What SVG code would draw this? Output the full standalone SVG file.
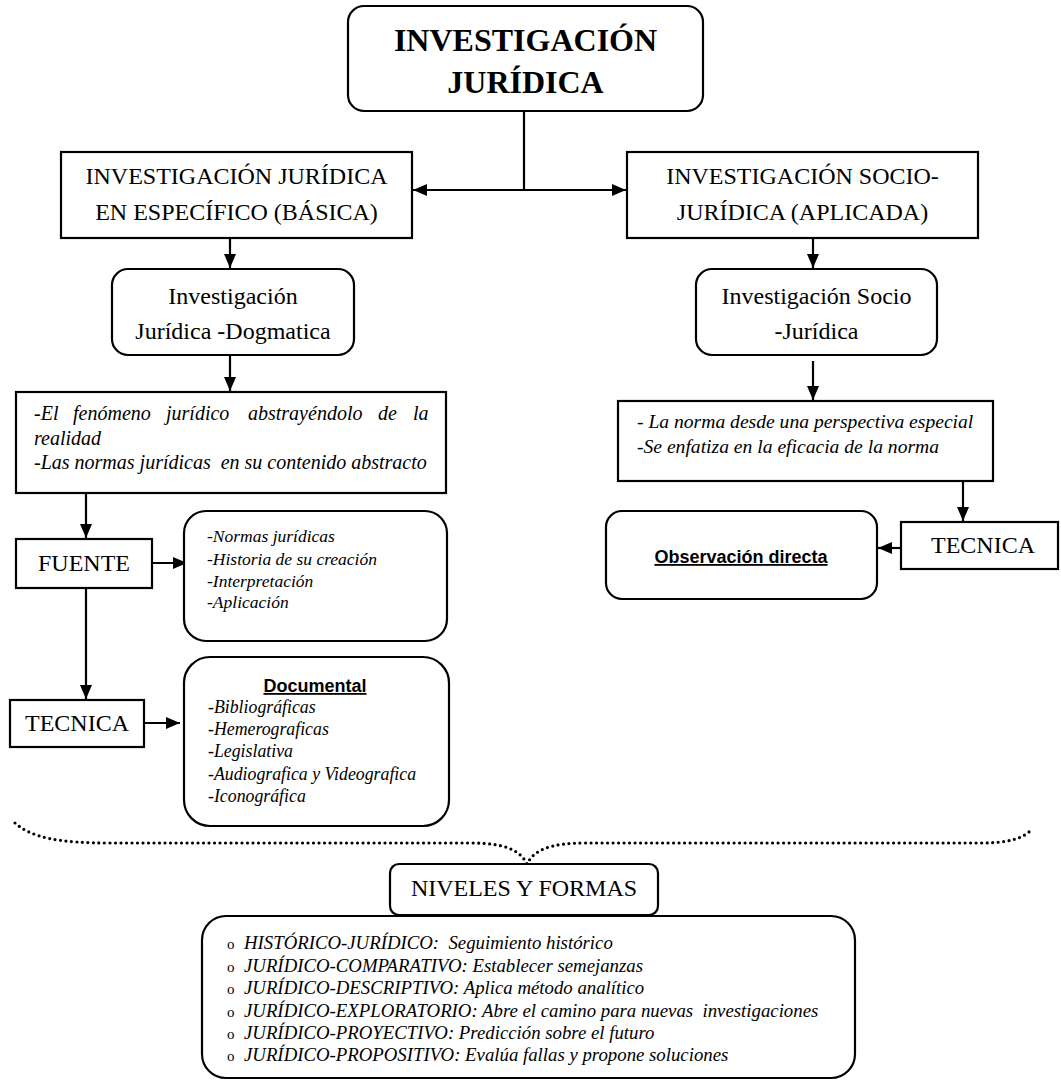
<svg xmlns="http://www.w3.org/2000/svg" width="1061" height="1081" viewBox="0 0 1061 1081">
  <style>
    .box { fill: #fff; stroke: #000; stroke-width: 2.2; }
    .link { fill: none; stroke: #000; stroke-width: 2.2; }
    .serif { font-family: "Liberation Serif", "Times New Roman", serif; fill: #000; }
    .title { font-size: 32px; font-weight: bold; text-anchor: middle; }
    .head { font-size: 24px; text-anchor: middle; }
    .it { font-style: italic; white-space: pre; }
    .bullet { font-size: 15px; }
    .sans-b { font-family: "Liberation Sans", Arial, sans-serif; font-weight: bold; font-size: 18px; text-decoration: underline; fill: #000; text-anchor: middle; }
    .brace { fill: none; stroke: #000; stroke-width: 3.2; stroke-linecap: round; stroke-dasharray: 0 5.5; }
  </style>
  <defs>
    <marker id="arrow" viewBox="0 0 14 12" refX="14" refY="6" markerWidth="14" markerHeight="12" markerUnits="userSpaceOnUse" orient="auto-start-reverse">
      <path d="M0,0 L14,6 L0,12 z" fill="#000"/>
    </marker>
  </defs>
  <rect width="1061" height="1081" fill="#fff"/>

  <!-- connectors -->
  <g id="connectors">
    <line class="link" x1="524" y1="111" x2="524" y2="190"/>
    <line class="link" x1="413" y1="190" x2="626" y2="190" marker-start="url(#arrow)" marker-end="url(#arrow)"/>
    <line class="link" x1="230" y1="238" x2="230" y2="268" marker-end="url(#arrow)"/>
    <line class="link" x1="230" y1="355" x2="230" y2="391" marker-end="url(#arrow)"/>
    <line class="link" x1="86" y1="493" x2="86" y2="538" marker-end="url(#arrow)"/>
    <line class="link" x1="152" y1="563" x2="187" y2="563" marker-end="url(#arrow)"/>
    <line class="link" x1="86" y1="588" x2="86" y2="699" marker-end="url(#arrow)"/>
    <line class="link" x1="144" y1="723" x2="180" y2="723" marker-end="url(#arrow)"/>
    <line class="link" x1="813" y1="238" x2="813" y2="268" marker-end="url(#arrow)"/>
    <line class="link" x1="813" y1="361" x2="813" y2="400" marker-end="url(#arrow)"/>
    <line class="link" x1="963" y1="477" x2="963" y2="521" marker-end="url(#arrow)"/>
    <line class="link" x1="901" y1="548" x2="878" y2="548" marker-end="url(#arrow)"/>
    <path class="brace" d="M15,823 C32,838 60,843 110,843 L470,843 C505,843 520,850 527,864 C534,850 550,843 585,843 L980,843 C1010,843 1024,838 1032,829"/>
  </g>

  <g id="investigacion-juridica">
    <rect class="box" x="348" y="6" width="355" height="105" rx="16"/>
    <text class="serif title" x="525.5" y="51">INVESTIGACIÓN</text>
    <text class="serif title" x="525.5" y="93">JURÍDICA</text>
  </g>

  <g id="basica">
    <rect class="box" x="61" y="152" width="351" height="86"/>
    <text class="serif head" x="236.5" y="184">INVESTIGACIÓN JURÍDICA</text>
    <text class="serif head" x="236.5" y="220">EN ESPECÍFICO (BÁSICA)</text>
  </g>

  <g id="aplicada">
    <rect class="box" x="627" y="152" width="351" height="86"/>
    <text class="serif head" x="802.5" y="184">INVESTIGACIÓN SOCIO-</text>
    <text class="serif head" x="802.5" y="220">JURÍDICA (APLICADA)</text>
  </g>

  <g id="dogmatica">
    <rect class="box" x="112" y="269" width="242" height="86" rx="16"/>
    <text class="serif head" x="233" y="304">Investigación</text>
    <text class="serif head" x="233" y="339">Jurídica -Dogmatica</text>
  </g>

  <g id="socio-juridica">
    <rect class="box" x="696" y="269" width="241" height="86" rx="16"/>
    <text class="serif head" x="816.5" y="304">Investigación Socio</text>
    <text class="serif head" x="816.5" y="339">-Jurídica</text>
  </g>

  <g id="dogmatica-objeto">
    <rect class="box" x="16" y="392" width="430" height="101"/>
    <text class="serif it" font-size="20" y="420"><tspan x="34">-El</tspan><tspan x="73">fenómeno</tspan><tspan x="166">jurídico</tspan><tspan x="248">abstrayéndolo</tspan><tspan x="378">de</tspan><tspan x="413">la</tspan></text>
    <text class="serif it" font-size="20" x="34" y="445">realidad</text>
    <text class="serif it" font-size="20" x="34" y="469" xml:space="preserve">-Las normas jurídicas  en su contenido abstracto</text>
  </g>

  <g id="socio-objeto">
    <rect class="box" x="618" y="401" width="375" height="80"/>
    <text class="serif it" font-size="19.6" x="637" y="428">- La norma desde una perspectiva especial</text>
    <text class="serif it" font-size="19.6" x="637" y="453">-Se enfatiza en la eficacia de la norma</text>
  </g>

  <g id="fuente">
    <rect class="box" x="16" y="539" width="136" height="49"/>
    <text class="serif head" x="84" y="571">FUENTE</text>
  </g>

  <g id="fuente-lista">
    <rect class="box" x="184" y="511" width="263" height="130" rx="22"/>
    <text class="serif it" font-size="17.5">
      <tspan x="207" y="542">-Normas jurídicas</tspan>
      <tspan x="207" y="565">-Historia de su creación</tspan>
      <tspan x="207" y="587">-Interpretación</tspan>
      <tspan x="207" y="608">-Aplicación</tspan>
    </text>
  </g>

  <g id="tecnica-documental">
    <rect class="box" x="10" y="700" width="134" height="47"/>
    <text class="serif head" font-size="23" x="77" y="731">TECNICA</text>
  </g>

  <g id="documental">
    <rect class="box" x="184" y="657" width="265" height="169" rx="26"/>
    <text class="sans-b" x="315" y="692">Documental</text>
    <text class="serif it" font-size="17.8">
      <tspan x="208" y="713">-Bibliográficas</tspan>
      <tspan x="208" y="735">-Hemerograficas</tspan>
      <tspan x="208" y="757">-Legislativa</tspan>
      <tspan x="208" y="780">-Audiografica y Videografica</tspan>
      <tspan x="208" y="802">-Iconográfica</tspan>
    </text>
  </g>

  <g id="tecnica-observacion">
    <rect class="box" x="901" y="522" width="157" height="47"/>
    <text class="serif head" font-size="23" x="983" y="553">TECNICA</text>
  </g>

  <g id="observacion">
    <rect class="box" x="606" y="511" width="271" height="88" rx="16"/>
    <text class="sans-b" x="741" y="563">Observación directa</text>
  </g>

  <g id="niveles">
    <rect class="box" x="390" y="864" width="268" height="51" rx="9"/>
    <text class="serif head" x="524" y="896">NIVELES Y FORMAS</text>
  </g>

  <g id="niveles-lista">
    <rect class="box" x="202" y="916" width="653" height="162" rx="24"/>
    <g class="serif bullet">
      <text x="227" y="949">o</text>
      <text x="227" y="972">o</text>
      <text x="227" y="994">o</text>
      <text x="227" y="1017">o</text>
      <text x="227" y="1039">o</text>
      <text x="227" y="1061">o</text>
    </g>
    <g class="serif it" font-size="18.8">
      <text x="244" y="949" xml:space="preserve">HISTÓRICO-JURÍDICO:  Seguimiento histórico</text>
      <text x="244" y="972">JURÍDICO-COMPARATIVO: Establecer semejanzas</text>
      <text x="244" y="994">JURÍDICO-DESCRIPTIVO: Aplica método analítico</text>
      <text x="244" y="1017" xml:space="preserve">JURÍDICO-EXPLORATORIO: Abre el camino para nuevas  investigaciones</text>
      <text x="244" y="1039">JURÍDICO-PROYECTIVO: Predicción sobre el futuro</text>
      <text x="244" y="1061">JURÍDICO-PROPOSITIVO: Evalúa fallas y propone soluciones</text>
    </g>
  </g>
</svg>
